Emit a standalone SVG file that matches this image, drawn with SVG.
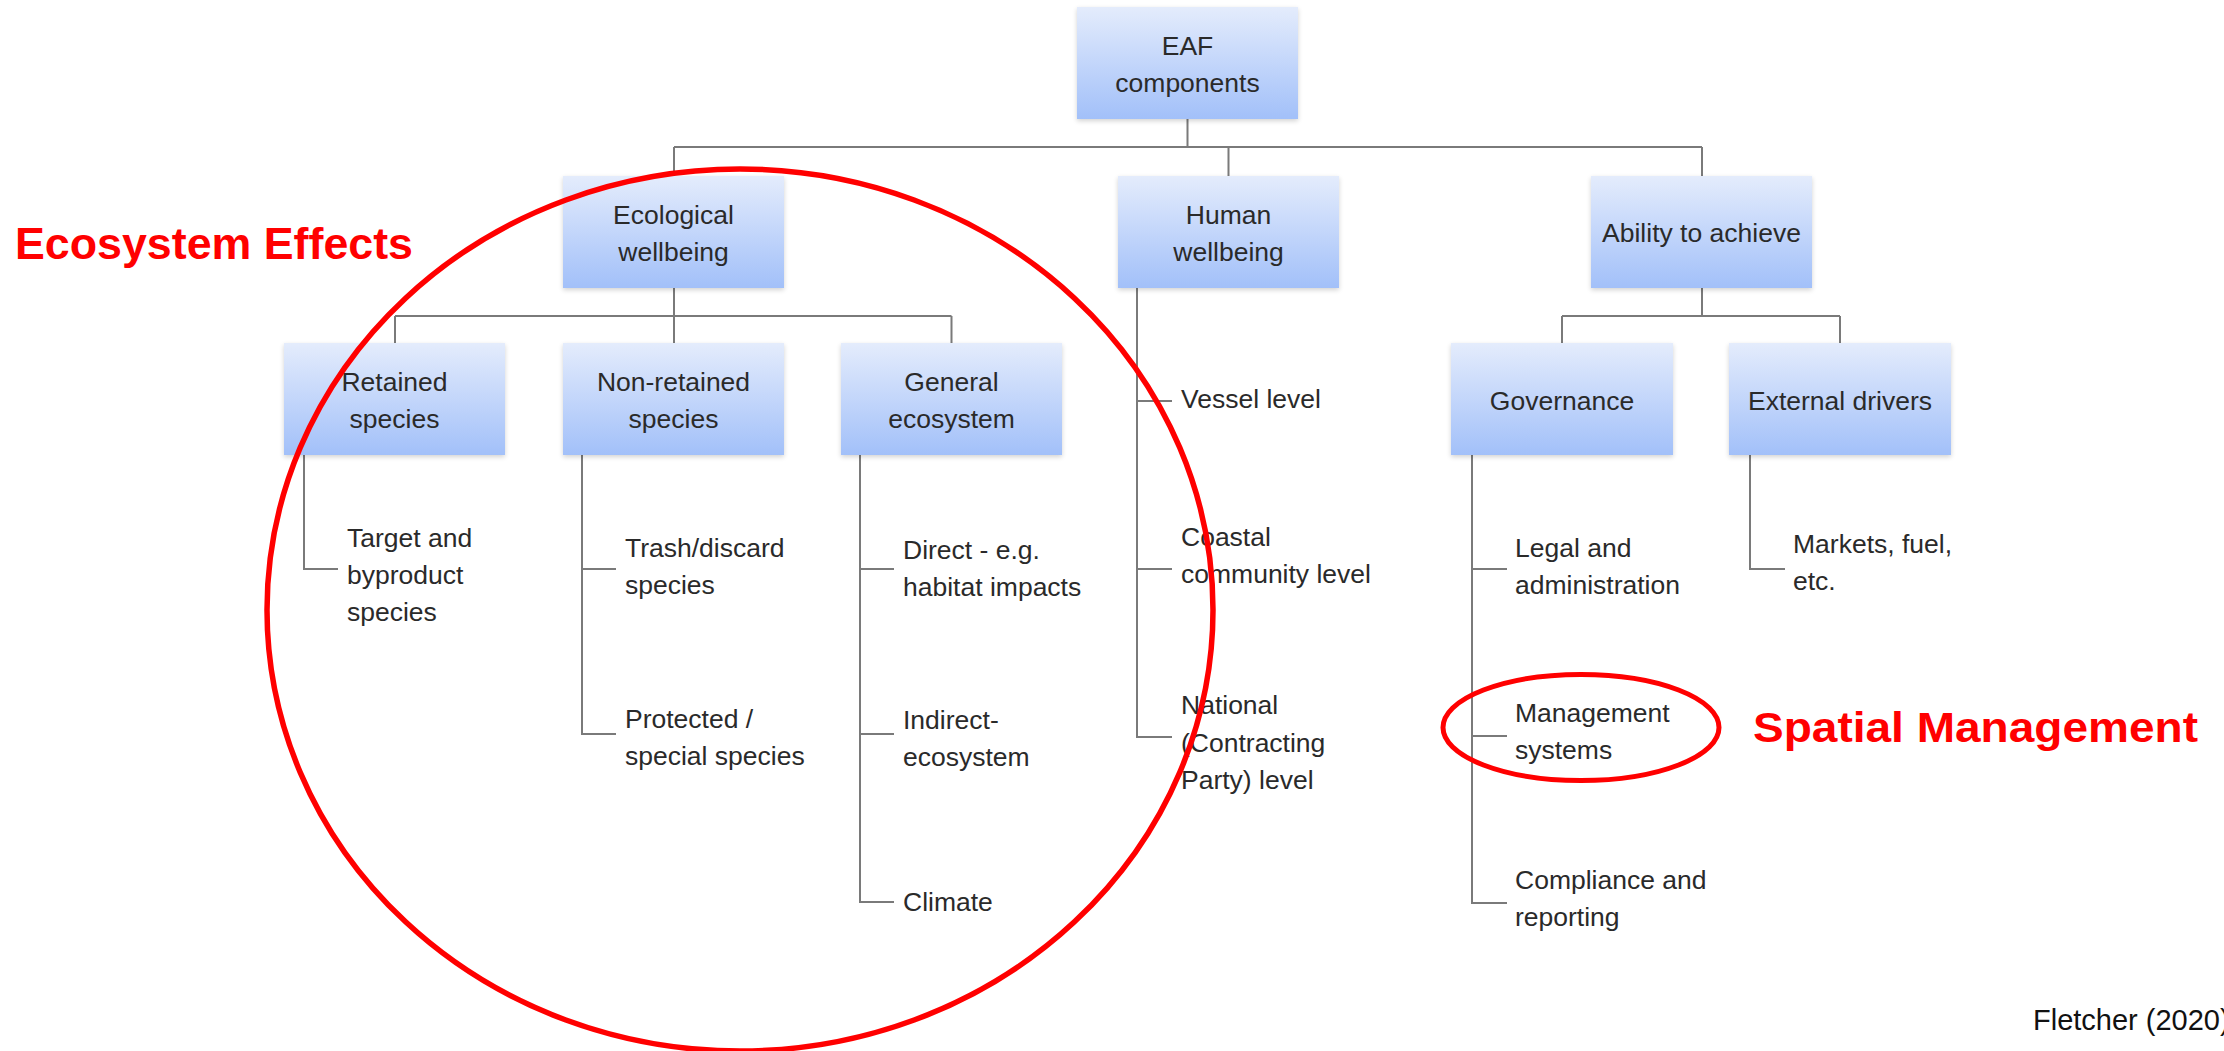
<svg xmlns="http://www.w3.org/2000/svg" width="2224" height="1051" viewBox="0 0 2224 1051">
<defs>
<linearGradient id="boxg" x1="0" y1="0" x2="0" y2="1">
<stop offset="0" stop-color="#e4ecfc"/>
<stop offset="1" stop-color="#a2c0f9"/>
</linearGradient>
<filter id="sh" x="-10%" y="-10%" width="120%" height="130%">
<feGaussianBlur in="SourceAlpha" stdDeviation="2.5"/>
<feOffset dx="0" dy="2" result="b"/>
<feComponentTransfer><feFuncA type="linear" slope="0.18"/></feComponentTransfer>
<feMerge><feMergeNode/><feMergeNode in="SourceGraphic"/></feMerge>
</filter>
</defs>
<style>
.box{fill:url(#boxg);filter:url(#sh);}
.bt{font-family:"Liberation Sans",Arial,sans-serif;font-size:26.5px;fill:#2a2a2a;text-anchor:middle;}
.lt{font-family:"Liberation Sans",Arial,sans-serif;font-size:26.5px;fill:#2a2a2a;}
.ln{stroke:#7a7a7a;stroke-width:2;fill:none;}
.red{stroke:#ff0000;fill:none;}
.rt{font-family:"Liberation Sans",Arial,sans-serif;font-weight:bold;fill:#ff0000;}
</style>
<rect width="2224" height="1051" fill="#ffffff"/>

<g id="connectors">
<path class="ln" d="M1187.5 119 V147 M674 147 H1702 M674 147 V176 M1228.5 147 V176 M1702 147 V176"/>
<path class="ln" d="M674 288 V316 M395 316 H951.5 M395 316 V343 M674 316 V343 M951.5 316 V343"/>
<path class="ln" d="M1702 288 V316 M1562 316 H1840 M1562 316 V343 M1840 316 V343"/>
<path class="ln" d="M304 455 V569 H338"/>
<path class="ln" d="M582 455 V734 H616 M582 569 H616"/>
<path class="ln" d="M860 455 V902 H894 M860 569 H894 M860 734 H894"/>
<path class="ln" d="M1137 288 V737 H1172 M1137 401 H1172 M1137 569 H1172"/>
<path class="ln" d="M1472 455 V903 H1507 M1472 569 H1507 M1472 736 H1507"/>
<path class="ln" d="M1750 455 V569 H1785"/>
</g>

<g id="n-eaf"><rect class="box" x="1077" y="7" width="221" height="112"/><text class="bt" x="1187.5" y="54.5">EAF</text><text class="bt" x="1187.5" y="91.5">components</text></g>
<g id="n-ecological"><rect class="box" x="563" y="176" width="221" height="112"/><text class="bt" x="673.5" y="223.5">Ecological</text><text class="bt" x="673.5" y="260.5">wellbeing</text></g>
<g id="n-human"><rect class="box" x="1118" y="176" width="221" height="112"/><text class="bt" x="1228.5" y="223.5">Human</text><text class="bt" x="1228.5" y="260.5">wellbeing</text></g>
<g id="n-ability"><rect class="box" x="1591" y="176" width="221" height="112"/><text class="bt" x="1701.5" y="242">Ability to achieve</text></g>
<g id="n-retained"><rect class="box" x="284" y="343" width="221" height="112"/><text class="bt" x="394.5" y="390.5">Retained</text><text class="bt" x="394.5" y="427.5">species</text></g>
<g id="n-nonretained"><rect class="box" x="563" y="343" width="221" height="112"/><text class="bt" x="673.5" y="390.5">Non-retained</text><text class="bt" x="673.5" y="427.5">species</text></g>
<g id="n-general"><rect class="box" x="841" y="343" width="221" height="112"/><text class="bt" x="951.5" y="390.5">General</text><text class="bt" x="951.5" y="427.5">ecosystem</text></g>
<g id="n-governance"><rect class="box" x="1451" y="343" width="222" height="112"/><text class="bt" x="1562" y="410">Governance</text></g>
<g id="n-external"><rect class="box" x="1729" y="343" width="222" height="112"/><text class="bt" x="1840" y="410">External drivers</text></g>

<g id="n-target"><text class="lt" x="347" y="547">Target and</text><text class="lt" x="347" y="584">byproduct</text><text class="lt" x="347" y="621">species</text></g>
<g id="n-trash"><text class="lt" x="625" y="557">Trash/discard</text><text class="lt" x="625" y="594">species</text></g>
<g id="n-protected"><text class="lt" x="625" y="728">Protected /</text><text class="lt" x="625" y="765">special species</text></g>
<g id="n-direct"><text class="lt" x="903" y="559">Direct - e.g.</text><text class="lt" x="903" y="596">habitat impacts</text></g>
<g id="n-indirect"><text class="lt" x="903" y="729">Indirect-</text><text class="lt" x="903" y="766">ecosystem</text></g>
<g id="n-climate"><text class="lt" x="903" y="911">Climate</text></g>
<g id="n-vessel"><text class="lt" x="1181" y="408">Vessel level</text></g>
<g id="n-coastal"><text class="lt" x="1181" y="546">Coastal</text><text class="lt" x="1181" y="583">community level</text></g>
<g id="n-national"><text class="lt" x="1181" y="714">National</text><text class="lt" x="1181" y="752">(Contracting</text><text class="lt" x="1181" y="789">Party) level</text></g>
<g id="n-legal"><text class="lt" x="1515" y="557">Legal and</text><text class="lt" x="1515" y="594">administration</text></g>
<g id="n-management"><text class="lt" x="1515" y="722">Management</text><text class="lt" x="1515" y="759">systems</text></g>
<g id="n-compliance"><text class="lt" x="1515" y="889">Compliance and</text><text class="lt" x="1515" y="926">reporting</text></g>
<g id="n-markets"><text class="lt" x="1793" y="553">Markets, fuel,</text><text class="lt" x="1793" y="590">etc.</text></g>

<g id="annotations">
<ellipse class="red" cx="740" cy="610" rx="473" ry="441" stroke-width="5.5"/>
<ellipse class="red" cx="1581" cy="727.5" rx="138" ry="53" stroke-width="5"/>
<text class="rt" x="15" y="259" font-size="45" textLength="398" lengthAdjust="spacingAndGlyphs">Ecosystem Effects</text>
<text class="rt" x="1753" y="742" font-size="42" textLength="445" lengthAdjust="spacingAndGlyphs">Spatial Management</text>
<text x="2033" y="1030" font-family="'Liberation Sans',Arial,sans-serif" font-size="29" fill="#111111">Fletcher (2020)</text>
</g>
</svg>
